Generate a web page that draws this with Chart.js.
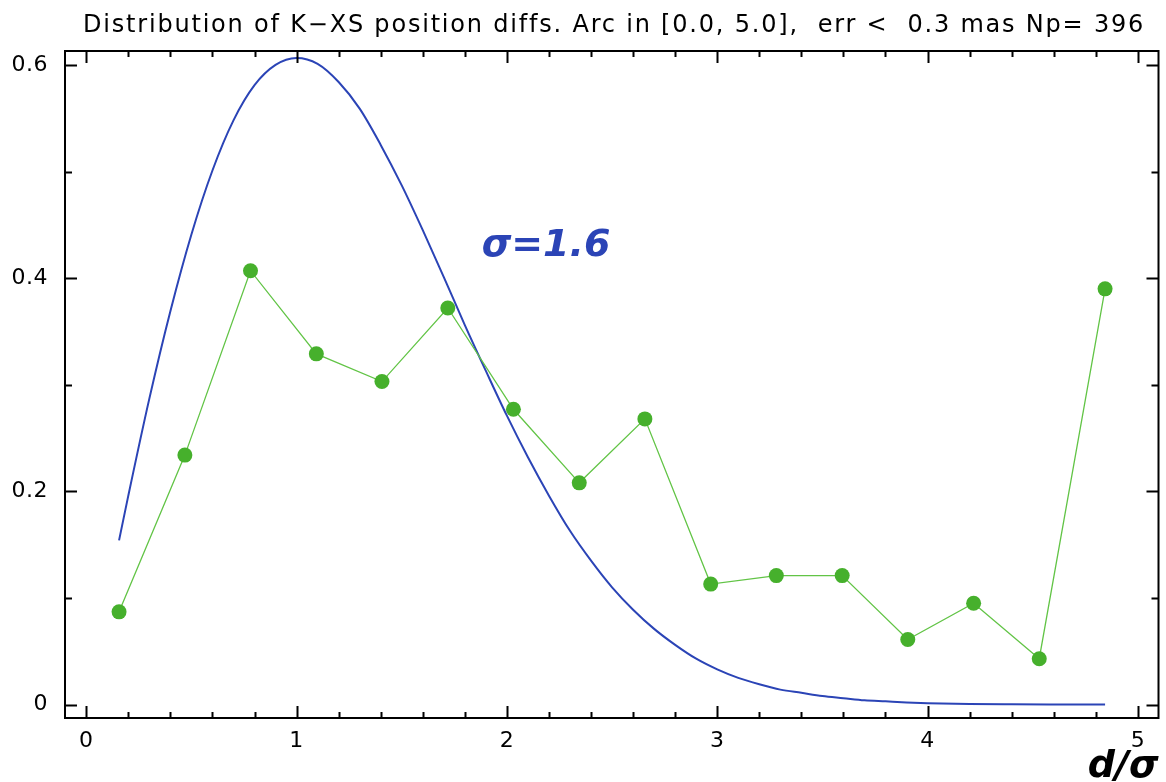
<!DOCTYPE html>
<html>
<head>
<meta charset="utf-8">
<script src="https://cdn.jsdelivr.net/npm/chart.js@4.4.1/dist/chart.umd.min.js"></script>
<style>
  html, body { margin: 0; padding: 0; background: #fff; }
  #wrap { width: 1166px; height: 782px; position: relative; }
</style>
</head>
<body>
<div id="wrap"><canvas id="chart" width="1166" height="782"></canvas></div>
<script>
// ===== DATA =====
const titleText = "Distribution of K\u2212XS position diffs. Arc in [0.0, 5.0],  err <  0.3 mas Np= 396";
const xAxisLabel = "d/\u03c3";
const sigmaLabel = "\u03c3=1.6";

// histogram bin centres and values (green)
const binX = [0.156, 0.469, 0.781, 1.094, 1.406, 1.719, 2.031, 2.344,
              2.656, 2.969, 3.281, 3.594, 3.906, 4.219, 4.531, 4.844];
const binY = [0.087, 0.234, 0.407, 0.329, 0.303, 0.372, 0.277, 0.208,
              0.268, 0.113, 0.121, 0.121, 0.061, 0.095, 0.043, 0.390];

// model curve (blue)
const curveX = [0.156, 0.2, 0.3, 0.4, 0.5, 0.6, 0.7, 0.8, 0.9, 1.0,
                1.1, 1.2, 1.3, 1.4, 1.5, 1.6, 1.7, 1.8, 1.9, 2.0,
                2.1, 2.2, 2.3, 2.4, 2.5, 2.6, 2.7, 2.8, 2.9, 3.0,
                3.1, 3.2, 3.3, 3.4, 3.5, 3.6, 3.7, 3.8, 3.9, 4.0,
                4.2, 4.4, 4.6, 4.844];
const curveY = [0.154, 0.196, 0.287, 0.369, 0.441, 0.501, 0.548, 0.581, 0.600, 0.6065,
                0.601, 0.584, 0.559, 0.525, 0.487, 0.445, 0.401, 0.356, 0.313, 0.271,
                0.232, 0.196, 0.163, 0.135, 0.110, 0.089, 0.071, 0.056, 0.043, 0.033,
                0.025, 0.019, 0.014, 0.011, 0.008, 0.006, 0.004, 0.003, 0.002, 0.0013,
                0.0006, 0.0003, 0.0001, 0.0];

const xTickValues = [0, 1, 2, 3, 4, 5];
const xTickLabels = ["0", "1", "2", "3", "4", "5"];
const yTickValues = [0, 0.2, 0.4, 0.6];
const yTickLabels = ["0", "0.2", "0.4", "0.6"];

const sigmaPos = { x: 1.88, y: 0.433 };

// ===== CHART =====
const BLUE = "#2b44b6";
const GREEN = "#46b02c";
const GREEN_LINE = "#62c446";

// slightly wider letter spacing like the original plotting font
const spacingPlugin = {
    id: "spacing",
    beforeDraw(chart) { chart.ctx.letterSpacing = "0.5px"; },
    afterDatasetsDraw(chart) { chart.ctx.letterSpacing = "0px"; }
};

const framePlugin = {
    id: "frame",
    afterDraw(chart) {
        const { ctx, chartArea: a, scales } = chart;
        const xs = scales.x, ys = scales.y;
        ctx.save();
        ctx.strokeStyle = "#000";
        ctx.lineWidth = 2;
        ctx.strokeRect(a.left, a.top, a.right - a.left, a.bottom - a.top);

        ctx.beginPath();
        // x ticks: major every 1, minor every 0.2
        for (let i = 0; i <= 25; i++) {
            const v = i * 0.2;
            const px = Math.round(xs.getPixelForValue(v)) + 0.5;
            const len = (i % 5 === 0) ? 12 : 6;
            ctx.moveTo(px, a.bottom); ctx.lineTo(px, a.bottom - len);
            ctx.moveTo(px, a.top); ctx.lineTo(px, a.top + len);
        }
        // y ticks: major every 0.2, minor every 0.1
        for (let i = 0; i <= 6; i++) {
            const v = i * 0.1;
            const py = Math.round(ys.getPixelForValue(v)) + 0.5;
            const len = (i % 2 === 0) ? 12 : 7;
            ctx.moveTo(a.left, py); ctx.lineTo(a.left + len, py);
            ctx.moveTo(a.right, py); ctx.lineTo(a.right - len, py);
        }
        ctx.stroke();

        // title, stretched to the original width
        ctx.fillStyle = "#000";
        ctx.font = "24px 'DejaVu Sans'";
        ctx.textBaseline = "alphabetic";
        ctx.textAlign = "left";
        ctx.letterSpacing = "0px";
        const w0 = ctx.measureText(titleText).width;
        const sp = (1060 - w0) / (titleText.length - 1);
        ctx.letterSpacing = sp.toFixed(2) + "px";
        ctx.fillText(titleText, 83, 32);
        ctx.letterSpacing = "0px";

        // axis label
        ctx.font = "bold italic 38px 'DejaVu Sans'";
        ctx.textAlign = "right";
        ctx.fillText(xAxisLabel, a.right, 777);

        // sigma annotation
        ctx.fillStyle = BLUE;
        ctx.textAlign = "left";
        ctx.fillText(sigmaLabel, xs.getPixelForValue(sigmaPos.x), ys.getPixelForValue(sigmaPos.y) + 13);
        ctx.restore();
    }
};

new Chart(document.getElementById("chart"), {
    type: "scatter",
    data: {
        datasets: [
            {
                data: curveX.map((x, i) => ({ x, y: curveY[i] })),
                showLine: true,
                borderColor: BLUE,
                borderWidth: 2,
                pointRadius: 0,
                cubicInterpolationMode: "monotone",
                order: 2
            },
            {
                data: binX.map((x, i) => ({ x, y: binY[i] })),
                showLine: true,
                borderColor: GREEN_LINE,
                borderWidth: 1.3,
                backgroundColor: GREEN,
                pointBackgroundColor: GREEN,
                pointBorderWidth: 0,
                pointRadius: 7.5,
                order: 1
            }
        ]
    },
    options: {
        responsive: false,
        animation: false,
        devicePixelRatio: 1,
        layout: { padding: { left: 0, top: 51, right: 7, bottom: 0 } },
        plugins: { legend: { display: false }, tooltip: { enabled: false } },
        scales: {
            x: {
                type: "linear",
                min: -0.101,
                max: 5.098,
                grid: { display: false, drawTicks: false },
                border: { display: false },
                afterBuildTicks: s => { s.ticks = xTickValues.map(v => ({ value: v })); },
                afterFit: s => { s.height = 64; },
                ticks: {
                    padding: 10,
                    color: "#000",
                    font: { family: "DejaVu Sans", size: 22 },
                    callback: (v) => xTickLabels[xTickValues.indexOf(v)]
                }
            },
            y: {
                type: "linear",
                min: -0.0126,
                max: 0.6131,
                grid: { display: false, drawTicks: false },
                border: { display: false },
                afterBuildTicks: s => { s.ticks = yTickValues.map(v => ({ value: v })); },
                afterFit: s => { s.width = 65; },
                ticks: {
                    padding: 17,
                    color: "#000",
                    font: { family: "DejaVu Sans", size: 22 },
                    callback: (v) => yTickLabels[yTickValues.indexOf(v)]
                }
            }
        }
    },
    plugins: [spacingPlugin, framePlugin]
});
</script>
</body>
</html>
